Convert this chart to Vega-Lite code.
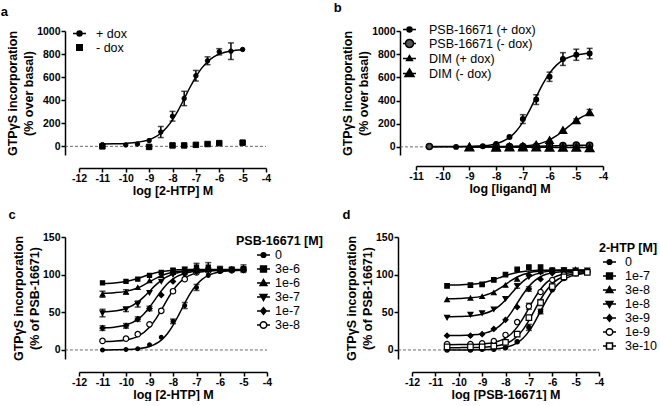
{
  "$schema": "https://vega.github.io/schema/vega-lite/v6.json",
  "padding": {"left": 0, "top": 2, "right": 0, "bottom": 0},
  "background": "white",
  "config": {
    "view": {"stroke": null},
    "font": "Liberation Sans",
    "axis": {"domainColor": "black", "domainWidth": 1.5, "tickColor": "black", "tickWidth": 1.5, "tickSize": 4, "labelFont": "Liberation Sans", "labelFontWeight": "bold", "labelFontSize": 10.5, "labelColor": "black", "labelPadding": 1, "titleFont": "Liberation Sans", "titleFontWeight": "bold", "titleFontSize": 12.5, "titleColor": "black", "titlePadding": 1, "titleLineHeight": 16, "grid": false, "labelFlush": false, "labelOverlap": false},
    "legend": {"labelFont": "Liberation Sans", "labelFontSize": 12.5, "labelColor": "black", "titleFont": "Liberation Sans", "titleFontSize": 12.5, "titleColor": "black", "titleFontWeight": "bold", "padding": 0, "offset": 0, "symbolStrokeWidth": 1.5, "symbolStrokeColor": "black"},
    "title": {"font": "Liberation Sans", "fontSize": 13, "fontWeight": "bold", "color": "black", "anchor": "start", "frame": "bounds"}
  },
  "datasets": {
    "aPts": [
      {"s": "+ dox", "x": -11, "v": 15}, {"s": "+ dox", "x": -10, "v": 12}, {"s": "+ dox", "x": -9.5, "v": 20}, {"s": "+ dox", "x": -9, "v": 50},
      {"s": "+ dox", "x": -8.5, "v": 124, "e": 48}, {"s": "+ dox", "x": -8, "v": 261, "e": 42}, {"s": "+ dox", "x": -7.5, "v": 415, "e": 62},
      {"s": "+ dox", "x": -7, "v": 612, "e": 46}, {"s": "+ dox", "x": -6.5, "v": 742, "e": 34}, {"s": "+ dox", "x": -6, "v": 820, "e": 27},
      {"s": "+ dox", "x": -5.5, "v": 825, "e": 72}, {"s": "+ dox", "x": -5, "v": 840},
      {"s": "- dox", "x": -11, "v": 0}, {"s": "- dox", "x": -9, "v": -5}, {"s": "- dox", "x": -8, "v": 8}, {"s": "- dox", "x": -7.5, "v": 8},
      {"s": "- dox", "x": -7, "v": 13}, {"s": "- dox", "x": -6.5, "v": 20}, {"s": "- dox", "x": -6, "v": 28}, {"s": "- dox", "x": -5, "v": 32}
    ],
    "aFit": [
      {"s": "+ dox", "x": -11, "v": 20.8}, {"s": "+ dox", "x": -10.5, "v": 22.1}, {"s": "+ dox", "x": -10, "v": 25.5}, {"s": "+ dox", "x": -9.5, "v": 34.7},
      {"s": "+ dox", "x": -9, "v": 57.9}, {"s": "+ dox", "x": -8.75, "v": 80.1}, {"s": "+ dox", "x": -8.5, "v": 113.7}, {"s": "+ dox", "x": -8.25, "v": 162.6},
      {"s": "+ dox", "x": -8, "v": 229.7}, {"s": "+ dox", "x": -7.75, "v": 314.8}, {"s": "+ dox", "x": -7.5, "v": 412.3}, {"s": "+ dox", "x": -7.25, "v": 512.2},
      {"s": "+ dox", "x": -7, "v": 603.2}, {"s": "+ dox", "x": -6.75, "v": 677.9}, {"s": "+ dox", "x": -6.5, "v": 733.8}, {"s": "+ dox", "x": -6.25, "v": 773.1},
      {"s": "+ dox", "x": -6, "v": 799.4}, {"s": "+ dox", "x": -5.5, "v": 827.3}, {"s": "+ dox", "x": -5, "v": 838.3}
    ],
    "bPts": [
      {"s": "PSB-16671 (+ dox)", "x": -10.5, "v": 2}, {"s": "PSB-16671 (+ dox)", "x": -9.5, "v": 0}, {"s": "PSB-16671 (+ dox)", "x": -8.5, "v": 5},
      {"s": "PSB-16671 (+ dox)", "x": -8, "v": 25}, {"s": "PSB-16671 (+ dox)", "x": -7.5, "v": 86}, {"s": "PSB-16671 (+ dox)", "x": -7, "v": 240, "e": 38},
      {"s": "PSB-16671 (+ dox)", "x": -6.5, "v": 408, "e": 42}, {"s": "PSB-16671 (+ dox)", "x": -6, "v": 605, "e": 40}, {"s": "PSB-16671 (+ dox)", "x": -5.5, "v": 758, "e": 55},
      {"s": "PSB-16671 (+ dox)", "x": -5, "v": 795, "e": 48}, {"s": "PSB-16671 (+ dox)", "x": -4.5, "v": 805, "e": 45},
      {"s": "DIM (+ dox)", "x": -9, "v": 1}, {"s": "DIM (+ dox)", "x": -8, "v": 2}, {"s": "DIM (+ dox)", "x": -7.5, "v": 3}, {"s": "DIM (+ dox)", "x": -7, "v": 7},
      {"s": "DIM (+ dox)", "x": -6.5, "v": 20}, {"s": "DIM (+ dox)", "x": -6, "v": 58}, {"s": "DIM (+ dox)", "x": -5.5, "v": 144},
      {"s": "DIM (+ dox)", "x": -5, "v": 230, "e": 12}, {"s": "DIM (+ dox)", "x": -4.5, "v": 298, "e": 25},
      {"s": "PSB-16671 (- dox)", "x": -10.5, "v": 3}, {"s": "PSB-16671 (- dox)", "x": -8, "v": 5}, {"s": "PSB-16671 (- dox)", "x": -7.5, "v": 3},
      {"s": "PSB-16671 (- dox)", "x": -7, "v": 4}, {"s": "PSB-16671 (- dox)", "x": -6.5, "v": 6}, {"s": "PSB-16671 (- dox)", "x": -6, "v": 8},
      {"s": "PSB-16671 (- dox)", "x": -5.5, "v": 12, "e": 10}, {"s": "PSB-16671 (- dox)", "x": -5, "v": 15, "e": 12}, {"s": "PSB-16671 (- dox)", "x": -4.5, "v": 14, "e": 15},
      {"s": "DIM (- dox)", "x": -9, "v": -2}, {"s": "DIM (- dox)", "x": -8, "v": -4, "e": 8}, {"s": "DIM (- dox)", "x": -7.5, "v": -2},
      {"s": "DIM (- dox)", "x": -7, "v": -3}, {"s": "DIM (- dox)", "x": -6.5, "v": -2}, {"s": "DIM (- dox)", "x": -6, "v": -4},
      {"s": "DIM (- dox)", "x": -5.5, "v": -5}, {"s": "DIM (- dox)", "x": -5, "v": -5}, {"s": "DIM (- dox)", "x": -4.5, "v": -8, "e": 10}
    ],
    "bFit": [
      {"s": "PSB-16671 (+ dox)", "x": -10.5, "v": 0.1}, {"s": "PSB-16671 (+ dox)", "x": -10, "v": 0.3}, {"s": "PSB-16671 (+ dox)", "x": -9.5, "v": 0.9},
      {"s": "PSB-16671 (+ dox)", "x": -9, "v": 2.9}, {"s": "PSB-16671 (+ dox)", "x": -8.5, "v": 9}, {"s": "PSB-16671 (+ dox)", "x": -8, "v": 27.9},
      {"s": "PSB-16671 (+ dox)", "x": -7.75, "v": 48.4}, {"s": "PSB-16671 (+ dox)", "x": -7.5, "v": 82.2}, {"s": "PSB-16671 (+ dox)", "x": -7.25, "v": 135.6},
      {"s": "PSB-16671 (+ dox)", "x": -7, "v": 213.5}, {"s": "PSB-16671 (+ dox)", "x": -6.75, "v": 315.3}, {"s": "PSB-16671 (+ dox)", "x": -6.5, "v": 431},
      {"s": "PSB-16671 (+ dox)", "x": -6.25, "v": 543}, {"s": "PSB-16671 (+ dox)", "x": -6, "v": 636}, {"s": "PSB-16671 (+ dox)", "x": -5.75, "v": 703.5},
      {"s": "PSB-16671 (+ dox)", "x": -5.5, "v": 748.3}, {"s": "PSB-16671 (+ dox)", "x": -5.25, "v": 776.1}, {"s": "PSB-16671 (+ dox)", "x": -5, "v": 792.6},
      {"s": "PSB-16671 (+ dox)", "x": -4.75, "v": 802.3}, {"s": "PSB-16671 (+ dox)", "x": -4.5, "v": 807.8},
      {"s": "PSB-16671 (- dox)", "x": -10.5, "v": 3}, {"s": "PSB-16671 (- dox)", "x": -9, "v": 3}, {"s": "PSB-16671 (- dox)", "x": -8, "v": 3.5},
      {"s": "PSB-16671 (- dox)", "x": -7, "v": 4.5}, {"s": "PSB-16671 (- dox)", "x": -6.5, "v": 6}, {"s": "PSB-16671 (- dox)", "x": -6, "v": 8.5},
      {"s": "PSB-16671 (- dox)", "x": -5.5, "v": 11.5}, {"s": "PSB-16671 (- dox)", "x": -5, "v": 13.5}, {"s": "PSB-16671 (- dox)", "x": -4.5, "v": 14.5},
      {"s": "DIM (+ dox)", "x": -9, "v": 0.1}, {"s": "DIM (+ dox)", "x": -8.5, "v": 0.2}, {"s": "DIM (+ dox)", "x": -8, "v": 0.7},
      {"s": "DIM (+ dox)", "x": -7.5, "v": 2.3}, {"s": "DIM (+ dox)", "x": -7, "v": 7.2}, {"s": "DIM (+ dox)", "x": -6.75, "v": 12.6},
      {"s": "DIM (+ dox)", "x": -6.5, "v": 21.8}, {"s": "DIM (+ dox)", "x": -6.25, "v": 36.9}, {"s": "DIM (+ dox)", "x": -6, "v": 60.4},
      {"s": "DIM (+ dox)", "x": -5.75, "v": 94}, {"s": "DIM (+ dox)", "x": -5.5, "v": 136.8}, {"s": "DIM (+ dox)", "x": -5.25, "v": 183.9},
      {"s": "DIM (+ dox)", "x": -5, "v": 228.1}, {"s": "DIM (+ dox)", "x": -4.75, "v": 263.8}, {"s": "DIM (+ dox)", "x": -4.5, "v": 289.2},
      {"s": "DIM (- dox)", "x": -9, "v": -1}, {"s": "DIM (- dox)", "x": -8, "v": -1.5}, {"s": "DIM (- dox)", "x": -7, "v": -2.5},
      {"s": "DIM (- dox)", "x": -6, "v": -4}, {"s": "DIM (- dox)", "x": -5.5, "v": -4.8}, {"s": "DIM (- dox)", "x": -5, "v": -5.3}, {"s": "DIM (- dox)", "x": -4.5, "v": -5.5}
    ],
    "cPts": [
      {"s": "0", "x": -11, "v": 0}, {"s": "0", "x": -10, "v": 0.5}, {"s": "0", "x": -9.5, "v": 1.5}, {"s": "0", "x": -9, "v": 7}, {"s": "0", "x": -8.5, "v": 17},
      {"s": "0", "x": -8, "v": 38, "e": 3}, {"s": "0", "x": -7.5, "v": 59, "e": 4}, {"s": "0", "x": -7, "v": 83, "e": 4}, {"s": "0", "x": -6.5, "v": 99},
      {"s": "0", "x": -6, "v": 104}, {"s": "0", "x": -5.5, "v": 105}, {"s": "0", "x": -5, "v": 106},
      {"s": "3e-8", "x": -11, "v": 12}, {"s": "3e-8", "x": -10, "v": 15}, {"s": "3e-8", "x": -9.5, "v": 21}, {"s": "3e-8", "x": -9, "v": 34},
      {"s": "3e-8", "x": -8.5, "v": 52, "e": 2}, {"s": "3e-8", "x": -8, "v": 78, "e": 2}, {"s": "3e-8", "x": -7.5, "v": 94}, {"s": "3e-8", "x": -7, "v": 103},
      {"s": "3e-8", "x": -6.5, "v": 105}, {"s": "3e-8", "x": -6, "v": 106}, {"s": "3e-8", "x": -5.5, "v": 106}, {"s": "3e-8", "x": -5, "v": 107},
      {"s": "1e-7", "x": -11, "v": 29, "e": 3}, {"s": "1e-7", "x": -10, "v": 32, "e": 3}, {"s": "1e-7", "x": -9.5, "v": 41, "e": 3}, {"s": "1e-7", "x": -9, "v": 55, "e": 3},
      {"s": "1e-7", "x": -8.5, "v": 73}, {"s": "1e-7", "x": -8, "v": 91}, {"s": "1e-7", "x": -7.5, "v": 101}, {"s": "1e-7", "x": -7, "v": 104},
      {"s": "1e-7", "x": -6.5, "v": 106}, {"s": "1e-7", "x": -6, "v": 106}, {"s": "1e-7", "x": -5.5, "v": 107}, {"s": "1e-7", "x": -5, "v": 106},
      {"s": "3e-7", "x": -11, "v": 49, "e": 5}, {"s": "3e-7", "x": -10, "v": 54, "e": 3}, {"s": "3e-7", "x": -9.5, "v": 61, "e": 4}, {"s": "3e-7", "x": -9, "v": 76},
      {"s": "3e-7", "x": -8.5, "v": 91}, {"s": "3e-7", "x": -8, "v": 100}, {"s": "3e-7", "x": -7.5, "v": 104}, {"s": "3e-7", "x": -7, "v": 105},
      {"s": "3e-7", "x": -6.5, "v": 106}, {"s": "3e-7", "x": -6, "v": 107}, {"s": "3e-7", "x": -5.5, "v": 106}, {"s": "3e-7", "x": -5, "v": 107},
      {"s": "1e-6", "x": -11, "v": 74, "e": 4}, {"s": "1e-6", "x": -10, "v": 77, "e": 3}, {"s": "1e-6", "x": -9.5, "v": 83}, {"s": "1e-6", "x": -9, "v": 92},
      {"s": "1e-6", "x": -8.5, "v": 99}, {"s": "1e-6", "x": -8, "v": 103}, {"s": "1e-6", "x": -7.5, "v": 105}, {"s": "1e-6", "x": -7, "v": 106},
      {"s": "1e-6", "x": -6.5, "v": 107}, {"s": "1e-6", "x": -6, "v": 106}, {"s": "1e-6", "x": -5.5, "v": 107}, {"s": "1e-6", "x": -5, "v": 107},
      {"s": "3e-6", "x": -11, "v": 89}, {"s": "3e-6", "x": -10, "v": 91}, {"s": "3e-6", "x": -9.5, "v": 94}, {"s": "3e-6", "x": -9, "v": 99},
      {"s": "3e-6", "x": -8.5, "v": 103}, {"s": "3e-6", "x": -8, "v": 106, "e": 2}, {"s": "3e-6", "x": -7.5, "v": 107, "e": 3}, {"s": "3e-6", "x": -7, "v": 110, "e": 5},
      {"s": "3e-6", "x": -6.5, "v": 110, "e": 6}, {"s": "3e-6", "x": -6, "v": 107, "e": 4}, {"s": "3e-6", "x": -5.5, "v": 107, "e": 3}, {"s": "3e-6", "x": -5, "v": 108, "e": 5}
    ],
    "cFit": [
      {"s": "0", "x": -11, "v": 0}, {"s": "0", "x": -10.5, "v": 0.2}, {"s": "0", "x": -10, "v": 0.5}, {"s": "0", "x": -9.5, "v": 1.5}, {"s": "0", "x": -9, "v": 4.5},
      {"s": "0", "x": -8.5, "v": 13.1}, {"s": "0", "x": -8.25, "v": 21.3}, {"s": "0", "x": -8, "v": 32.7}, {"s": "0", "x": -7.75, "v": 46.9}, {"s": "0", "x": -7.5, "v": 62.1},
      {"s": "0", "x": -7.25, "v": 75.8}, {"s": "0", "x": -7, "v": 86.6}, {"s": "0", "x": -6.75, "v": 94.1}, {"s": "0", "x": -6.5, "v": 99}, {"s": "0", "x": -6, "v": 103.7},
      {"s": "0", "x": -5.5, "v": 105.3}, {"s": "0", "x": -5, "v": 105.8},
      {"s": "3e-8", "x": -11, "v": 11.2}, {"s": "3e-8", "x": -10.5, "v": 11.7}, {"s": "3e-8", "x": -10, "v": 13.3}, {"s": "3e-8", "x": -9.5, "v": 18},
      {"s": "3e-8", "x": -9, "v": 30.1}, {"s": "3e-8", "x": -8.75, "v": 40.3}, {"s": "3e-8", "x": -8.5, "v": 53.1}, {"s": "3e-8", "x": -8.25, "v": 66.6},
      {"s": "3e-8", "x": -8, "v": 79}, {"s": "3e-8", "x": -7.75, "v": 88.6}, {"s": "3e-8", "x": -7.5, "v": 95.4}, {"s": "3e-8", "x": -7, "v": 102.4},
      {"s": "3e-8", "x": -6.5, "v": 104.8}, {"s": "3e-8", "x": -6, "v": 105.6}, {"s": "3e-8", "x": -5.5, "v": 105.9}, {"s": "3e-8", "x": -5, "v": 106},
      {"s": "1e-7", "x": -11, "v": 29.4}, {"s": "1e-7", "x": -10.5, "v": 30.3}, {"s": "1e-7", "x": -10, "v": 33.1}, {"s": "1e-7", "x": -9.5, "v": 40.6},
      {"s": "1e-7", "x": -9.25, "v": 47.5}, {"s": "1e-7", "x": -9, "v": 56.7}, {"s": "1e-7", "x": -8.75, "v": 67.5}, {"s": "1e-7", "x": -8.5, "v": 78.3},
      {"s": "1e-7", "x": -8.25, "v": 87.5}, {"s": "1e-7", "x": -8, "v": 94.4}, {"s": "1e-7", "x": -7.5, "v": 101.9}, {"s": "1e-7", "x": -7, "v": 104.7},
      {"s": "1e-7", "x": -6.5, "v": 105.6}, {"s": "1e-7", "x": -6, "v": 105.8}, {"s": "1e-7", "x": -5, "v": 106},
      {"s": "3e-7", "x": -11, "v": 50.6}, {"s": "3e-7", "x": -10.5, "v": 51.7}, {"s": "3e-7", "x": -10, "v": 55.1}, {"s": "3e-7", "x": -9.5, "v": 63.5},
      {"s": "3e-7", "x": -9.25, "v": 70.2}, {"s": "3e-7", "x": -9, "v": 78}, {"s": "3e-7", "x": -8.75, "v": 85.8}, {"s": "3e-7", "x": -8.5, "v": 92.5},
      {"s": "3e-7", "x": -8, "v": 100.9}, {"s": "3e-7", "x": -7.5, "v": 104.3}, {"s": "3e-7", "x": -7, "v": 105.4}, {"s": "3e-7", "x": -6.5, "v": 105.8},
      {"s": "3e-7", "x": -6, "v": 105.9}, {"s": "3e-7", "x": -5, "v": 106},
      {"s": "1e-6", "x": -11, "v": 75.3}, {"s": "1e-6", "x": -10.5, "v": 76}, {"s": "1e-6", "x": -10, "v": 77.8}, {"s": "1e-6", "x": -9.5, "v": 82.4},
      {"s": "1e-6", "x": -9.25, "v": 86.2}, {"s": "1e-6", "x": -9, "v": 90.5}, {"s": "1e-6", "x": -8.75, "v": 94.8}, {"s": "1e-6", "x": -8.5, "v": 98.6},
      {"s": "1e-6", "x": -8, "v": 103.2}, {"s": "1e-6", "x": -7.5, "v": 105}, {"s": "1e-6", "x": -7, "v": 105.7}, {"s": "1e-6", "x": -6.5, "v": 105.9}, {"s": "1e-6", "x": -5, "v": 106},
      {"s": "3e-6", "x": -11, "v": 88.3}, {"s": "3e-6", "x": -10.5, "v": 89}, {"s": "3e-6", "x": -10, "v": 90.9}, {"s": "3e-6", "x": -9.5, "v": 94.8},
      {"s": "3e-6", "x": -9, "v": 100.2}, {"s": "3e-6", "x": -8.5, "v": 104.1}, {"s": "3e-6", "x": -8, "v": 106}, {"s": "3e-6", "x": -7.5, "v": 106.7},
      {"s": "3e-6", "x": -7, "v": 106.9}, {"s": "3e-6", "x": -6, "v": 107}, {"s": "3e-6", "x": -5, "v": 107}
    ],
    "dPts": [
      {"s": "0", "x": -10.5, "v": 0}, {"s": "0", "x": -9.5, "v": 0}, {"s": "0", "x": -9, "v": 1}, {"s": "0", "x": -8.5, "v": 1}, {"s": "0", "x": -8, "v": 3},
      {"s": "0", "x": -7.5, "v": 11}, {"s": "0", "x": -7, "v": 30, "e": 4}, {"s": "0", "x": -6.5, "v": 51, "e": 3}, {"s": "0", "x": -6, "v": 80},
      {"s": "0", "x": -5.5, "v": 95}, {"s": "0", "x": -5, "v": 101}, {"s": "0", "x": -4.5, "v": 103},
      {"s": "1e-7", "x": -10.5, "v": 85}, {"s": "1e-7", "x": -9.5, "v": 86}, {"s": "1e-7", "x": -9, "v": 87}, {"s": "1e-7", "x": -8.5, "v": 93},
      {"s": "1e-7", "x": -8, "v": 100}, {"s": "1e-7", "x": -7.5, "v": 107}, {"s": "1e-7", "x": -7, "v": 110}, {"s": "1e-7", "x": -6.5, "v": 110},
      {"s": "1e-7", "x": -6, "v": 106}, {"s": "1e-7", "x": -5.5, "v": 106}, {"s": "1e-7", "x": -5, "v": 105}, {"s": "1e-7", "x": -4.5, "v": 104},
      {"s": "3e-8", "x": -10.5, "v": 67}, {"s": "3e-8", "x": -9.5, "v": 69}, {"s": "3e-8", "x": -9, "v": 71}, {"s": "3e-8", "x": -8.5, "v": 76},
      {"s": "3e-8", "x": -8, "v": 86}, {"s": "3e-8", "x": -7.5, "v": 94}, {"s": "3e-8", "x": -7, "v": 101}, {"s": "3e-8", "x": -6.5, "v": 104},
      {"s": "3e-8", "x": -6, "v": 106}, {"s": "3e-8", "x": -5.5, "v": 106}, {"s": "3e-8", "x": -5, "v": 107}, {"s": "3e-8", "x": -4.5, "v": 105},
      {"s": "1e-8", "x": -10.5, "v": 43}, {"s": "1e-8", "x": -9.5, "v": 47}, {"s": "1e-8", "x": -9, "v": 49}, {"s": "1e-8", "x": -8.5, "v": 54},
      {"s": "1e-8", "x": -8, "v": 68}, {"s": "1e-8", "x": -7.5, "v": 85, "e": 3}, {"s": "1e-8", "x": -7, "v": 97}, {"s": "1e-8", "x": -6.5, "v": 103},
      {"s": "1e-8", "x": -6, "v": 105}, {"s": "1e-8", "x": -5.5, "v": 106}, {"s": "1e-8", "x": -5, "v": 106}, {"s": "1e-8", "x": -4.5, "v": 106},
      {"s": "3e-9", "x": -10.5, "v": 19}, {"s": "3e-9", "x": -9.5, "v": 19}, {"s": "3e-9", "x": -9, "v": 21}, {"s": "3e-9", "x": -8.5, "v": 28},
      {"s": "3e-9", "x": -8, "v": 40}, {"s": "3e-9", "x": -7.5, "v": 57}, {"s": "3e-9", "x": -7, "v": 81, "e": 3}, {"s": "3e-9", "x": -6.5, "v": 94},
      {"s": "3e-9", "x": -6, "v": 102}, {"s": "3e-9", "x": -5.5, "v": 104}, {"s": "3e-9", "x": -5, "v": 105}, {"s": "3e-9", "x": -4.5, "v": 104},
      {"s": "1e-9", "x": -10.5, "v": 8}, {"s": "1e-9", "x": -9.5, "v": 8}, {"s": "1e-9", "x": -9, "v": 9}, {"s": "1e-9", "x": -8.5, "v": 12},
      {"s": "1e-9", "x": -8, "v": 20}, {"s": "1e-9", "x": -7.5, "v": 37}, {"s": "1e-9", "x": -7, "v": 58, "e": 4}, {"s": "1e-9", "x": -6.5, "v": 77},
      {"s": "1e-9", "x": -6, "v": 93}, {"s": "1e-9", "x": -5.5, "v": 100}, {"s": "1e-9", "x": -5, "v": 103}, {"s": "1e-9", "x": -4.5, "v": 104},
      {"s": "3e-10", "x": -10.5, "v": 4}, {"s": "3e-10", "x": -9.5, "v": 4}, {"s": "3e-10", "x": -9, "v": 4}, {"s": "3e-10", "x": -8.5, "v": 5},
      {"s": "3e-10", "x": -8, "v": 10}, {"s": "3e-10", "x": -7.5, "v": 21}, {"s": "3e-10", "x": -7, "v": 43}, {"s": "3e-10", "x": -6.5, "v": 63, "e": 4},
      {"s": "3e-10", "x": -6, "v": 84}, {"s": "3e-10", "x": -5.5, "v": 97}, {"s": "3e-10", "x": -5, "v": 102}, {"s": "3e-10", "x": -4.5, "v": 103}
    ],
    "dFit": [
      {"s": "0", "x": -10.5, "v": 0}, {"s": "0", "x": -9.5, "v": 0.1}, {"s": "0", "x": -9, "v": 0.3}, {"s": "0", "x": -8.5, "v": 1}, {"s": "0", "x": -8, "v": 3.2},
      {"s": "0", "x": -7.5, "v": 9.4}, {"s": "0", "x": -7.25, "v": 15.6}, {"s": "0", "x": -7, "v": 24.7}, {"s": "0", "x": -6.75, "v": 37.1}, {"s": "0", "x": -6.5, "v": 51.5},
      {"s": "0", "x": -6.25, "v": 65.9}, {"s": "0", "x": -6, "v": 78.3}, {"s": "0", "x": -5.75, "v": 87.4}, {"s": "0", "x": -5.5, "v": 93.6}, {"s": "0", "x": -5, "v": 99.8}, {"s": "0", "x": -4.5, "v": 102},
      {"s": "1e-7", "x": -10.5, "v": 86.1}, {"s": "1e-7", "x": -10, "v": 86.3}, {"s": "1e-7", "x": -9.5, "v": 87.1}, {"s": "1e-7", "x": -9, "v": 89},
      {"s": "1e-7", "x": -8.5, "v": 93.2}, {"s": "1e-7", "x": -8.25, "v": 96}, {"s": "1e-7", "x": -8, "v": 98.8}, {"s": "1e-7", "x": -7.5, "v": 103},
      {"s": "1e-7", "x": -7, "v": 104.9}, {"s": "1e-7", "x": -6.5, "v": 105.7}, {"s": "1e-7", "x": -6, "v": 105.9}, {"s": "1e-7", "x": -4.5, "v": 106},
      {"s": "3e-8", "x": -10.5, "v": 68.1}, {"s": "3e-8", "x": -10, "v": 68.4}, {"s": "3e-8", "x": -9.5, "v": 69.2}, {"s": "3e-8", "x": -9, "v": 71.5},
      {"s": "3e-8", "x": -8.5, "v": 77.1}, {"s": "3e-8", "x": -8.25, "v": 81.7}, {"s": "3e-8", "x": -8, "v": 87}, {"s": "3e-8", "x": -7.75, "v": 92.3},
      {"s": "3e-8", "x": -7.5, "v": 96.9}, {"s": "3e-8", "x": -7, "v": 102.5}, {"s": "3e-8", "x": -6.5, "v": 104.8}, {"s": "3e-8", "x": -6, "v": 105.6},
      {"s": "3e-8", "x": -5.5, "v": 105.9}, {"s": "3e-8", "x": -4.5, "v": 106},
      {"s": "1e-8", "x": -10.5, "v": 44.1}, {"s": "1e-8", "x": -10, "v": 44.4}, {"s": "1e-8", "x": -9.5, "v": 45.1}, {"s": "1e-8", "x": -9, "v": 47.3},
      {"s": "1e-8", "x": -8.5, "v": 53.4}, {"s": "1e-8", "x": -8.25, "v": 58.9}, {"s": "1e-8", "x": -8, "v": 66.3}, {"s": "1e-8", "x": -7.75, "v": 75},
      {"s": "1e-8", "x": -7.5, "v": 83.7}, {"s": "1e-8", "x": -7.25, "v": 91.1}, {"s": "1e-8", "x": -7, "v": 96.6}, {"s": "1e-8", "x": -6.5, "v": 102.7},
      {"s": "1e-8", "x": -6, "v": 104.9}, {"s": "1e-8", "x": -5.5, "v": 105.7}, {"s": "1e-8", "x": -5, "v": 105.9}, {"s": "1e-8", "x": -4.5, "v": 106},
      {"s": "3e-9", "x": -10.5, "v": 19.1}, {"s": "3e-9", "x": -10, "v": 19.3}, {"s": "3e-9", "x": -9.5, "v": 19.9}, {"s": "3e-9", "x": -9, "v": 21.6},
      {"s": "3e-9", "x": -8.5, "v": 26.8}, {"s": "3e-9", "x": -8.25, "v": 32}, {"s": "3e-9", "x": -8, "v": 39.7}, {"s": "3e-9", "x": -7.75, "v": 50},
      {"s": "3e-9", "x": -7.5, "v": 62}, {"s": "3e-9", "x": -7.25, "v": 74}, {"s": "3e-9", "x": -7, "v": 84.3}, {"s": "3e-9", "x": -6.75, "v": 92},
      {"s": "3e-9", "x": -6.5, "v": 97.2}, {"s": "3e-9", "x": -6, "v": 102.4}, {"s": "3e-9", "x": -5.5, "v": 104.1}, {"s": "3e-9", "x": -5, "v": 104.7}, {"s": "3e-9", "x": -4.5, "v": 104.9},
      {"s": "1e-9", "x": -10.5, "v": 7}, {"s": "1e-9", "x": -10, "v": 7.1}, {"s": "1e-9", "x": -9.5, "v": 7.3}, {"s": "1e-9", "x": -9, "v": 8},
      {"s": "1e-9", "x": -8.5, "v": 10}, {"s": "1e-9", "x": -8, "v": 15.8}, {"s": "1e-9", "x": -7.75, "v": 21.6}, {"s": "1e-9", "x": -7.5, "v": 30.3},
      {"s": "1e-9", "x": -7.25, "v": 41.9}, {"s": "1e-9", "x": -7, "v": 55.5}, {"s": "1e-9", "x": -6.75, "v": 69.1}, {"s": "1e-9", "x": -6.5, "v": 80.7},
      {"s": "1e-9", "x": -6.25, "v": 89.4}, {"s": "1e-9", "x": -6, "v": 95.2}, {"s": "1e-9", "x": -5.5, "v": 101}, {"s": "1e-9", "x": -5, "v": 103}, {"s": "1e-9", "x": -4.5, "v": 103.7},
      {"s": "3e-10", "x": -10.5, "v": 3}, {"s": "3e-10", "x": -10, "v": 3.1}, {"s": "3e-10", "x": -9.5, "v": 3.2}, {"s": "3e-10", "x": -9, "v": 3.6},
      {"s": "3e-10", "x": -8.5, "v": 4.8}, {"s": "3e-10", "x": -8, "v": 8.3}, {"s": "3e-10", "x": -7.75, "v": 12.1}, {"s": "3e-10", "x": -7.5, "v": 18.1},
      {"s": "3e-10", "x": -7.25, "v": 27}, {"s": "3e-10", "x": -7, "v": 39}, {"s": "3e-10", "x": -6.75, "v": 53}, {"s": "3e-10", "x": -6.5, "v": 67},
      {"s": "3e-10", "x": -6.25, "v": 79}, {"s": "3e-10", "x": -6, "v": 87.9}, {"s": "3e-10", "x": -5.75, "v": 93.9}, {"s": "3e-10", "x": -5.5, "v": 97.7},
      {"s": "3e-10", "x": -5, "v": 101.3}, {"s": "3e-10", "x": -4.5, "v": 102.4}
    ]
  },
  "spacing": 12,
  "resolve": {"scale": {"shape": "independent", "fill": "independent", "size": "independent", "stroke": "independent"}, "legend": {"shape": "independent", "fill": "independent", "size": "independent", "stroke": "independent"}},
  "vconcat": [
    {
      "spacing": 62,
      "resolve": {"scale": {"shape": "independent", "fill": "independent", "size": "independent", "stroke": "independent"}, "legend": {"shape": "independent", "fill": "independent", "size": "independent", "stroke": "independent"}},
      "hconcat": [
        {
          "width": 187, "height": 124,
          "title": {"text": "a", "dx": -6, "offset": 7},
          "resolve": {"scale": {"shape": "independent", "fill": "independent", "size": "independent", "stroke": "independent"}, "legend": {"shape": "independent", "fill": "independent", "size": "independent", "stroke": "independent"}},
          "encoding": {
            "x": {"field": "x", "type": "quantitative", "scale": {"domain": [-12, -4], "nice": false, "zero": false}, "axis": {"title": "log [2-HTP] M", "values": [-12, -11, -10, -9, -8, -7, -6, -5, -4], "offset": 13, "labelExpr": "'' + datum.value"}},
            "y": {"field": "v", "type": "quantitative", "scale": {"domain": [-75, 1000], "nice": false, "zero": false}, "axis": {"title": ["GTPγS incorporation", "(% over basal)"], "values": [0, 200, 400, 600, 800, 1000], "offset": 14, "labelExpr": "'' + datum.value"}}
          },
          "layer": [
            {"data": {"values": [{"x": -12.6, "v": 0}, {"x": -4, "v": 0}]}, "mark": {"type": "line", "strokeDash": [3, 2], "color": "#444", "strokeWidth": 0.8}},
            {"data": {"name": "aFit"}, "mark": {"type": "line", "interpolate": "monotone", "color": "black", "strokeWidth": 1.5}, "encoding": {"detail": {"field": "s"}}},
            {"data": {"name": "aPts"}, "transform": [{"filter": "isValid(datum.e)"}], "mark": {"type": "errorbar", "color": "black", "thickness": 1.5, "ticks": {"size": 6, "thickness": 1.5}}, "encoding": {"yError": {"field": "e"}}},
            {"data": {"name": "aPts"}, "mark": {"type": "point", "filled": true, "fill": "black", "stroke": "black", "strokeWidth": 1, "opacity": 1},
             "encoding": {
               "shape": {"field": "s", "type": "nominal", "scale": {"domain": ["+ dox", "- dox"], "range": ["circle", "square"]}, "legend": null},
               "size": {"field": "s", "type": "ordinal", "scale": {"domain": ["+ dox", "- dox"], "range": [20, 30]}, "legend": null}
             }},
            {"data": {"name": "aPts"}, "transform": [{"filter": "datum.x > 100"}], "mark": {"type": "point", "filled": false, "color": "black", "stroke": "black", "strokeWidth": 1.5, "opacity": 1},
             "encoding": {
               "shape": {"field": "s", "type": "nominal", "scale": {"domain": ["+ dox", "- dox"], "range": ["M-1,0L1,0M0.38,0A0.38,0.38,0,1,1,-0.38,0A0.38,0.38,0,1,1,0.38,0Z", "M-0.42,-0.42L0.42,-0.42L0.42,0.42L-0.42,0.42Z"]},
                 "legend": {"title": null, "orient": "none", "legendX": -7, "legendY": -5, "symbolSize": 169, "symbolOpacity": 1, "symbolStrokeWidth": 1.5, "labelOffset": 9, "rowPadding": -3}},
               "fill": {"field": "s", "type": "nominal", "scale": {"domain": ["+ dox", "- dox"], "range": ["black", "black"]},
                 "legend": {"title": null, "orient": "none", "legendX": -7, "legendY": -5, "symbolSize": 169, "symbolOpacity": 1, "symbolStrokeWidth": 1.5, "labelOffset": 9, "rowPadding": -3}},
               "stroke": {"field": "s", "type": "nominal", "scale": {"domain": ["+ dox", "- dox"], "range": ["black", "black"]},
                 "legend": {"title": null, "orient": "none", "legendX": -7, "legendY": -5, "symbolSize": 169, "symbolOpacity": 1, "symbolStrokeWidth": 1.5, "labelOffset": 9, "rowPadding": -3}}
             }}
          ]
        },
        {
          "width": 187, "height": 124,
          "title": {"text": "b", "dx": -8, "offset": 7},
          "resolve": {"scale": {"shape": "independent", "fill": "independent", "size": "independent", "stroke": "independent"}, "legend": {"shape": "independent", "fill": "independent", "size": "independent", "stroke": "independent"}},
          "encoding": {
            "x": {"field": "x", "type": "quantitative", "scale": {"domain": [-11, -4], "nice": false, "zero": false}, "axis": {"title": "log [ligand] M", "values": [-11, -10, -9, -8, -7, -6, -5, -4], "offset": 11, "labelExpr": "'' + datum.value"}},
            "y": {"field": "v", "type": "quantitative", "scale": {"domain": [-70, 1000], "nice": false, "zero": false}, "axis": {"title": ["GTPγS incorporation", "(% over basal)"], "values": [0, 200, 400, 600, 800, 1000], "offset": 16, "labelExpr": "'' + datum.value"}}
          },
          "layer": [
            {"data": {"values": [{"x": -11.6, "v": 0}, {"x": -4.3, "v": 0}]}, "mark": {"type": "line", "strokeDash": [3, 2], "color": "#444", "strokeWidth": 0.8}},
            {"data": {"name": "bFit"}, "mark": {"type": "line", "interpolate": "monotone", "color": "black", "strokeWidth": 1.5}, "encoding": {"detail": {"field": "s"}}},
            {"data": {"name": "bPts"}, "transform": [{"filter": "isValid(datum.e)"}], "mark": {"type": "errorbar", "color": "black", "thickness": 1.5, "ticks": {"size": 6, "thickness": 1.5}}, "encoding": {"yError": {"field": "e"}}},
            {"data": {"name": "bPts"}, "mark": {"type": "point", "filled": true, "stroke": "black", "strokeWidth": 1.5, "opacity": 1},
             "encoding": {
               "shape": {"field": "s", "type": "nominal", "scale": {"domain": ["PSB-16671 (+ dox)", "PSB-16671 (- dox)", "DIM (+ dox)", "DIM (- dox)"], "range": ["circle", "circle", "triangle-up", "triangle-up"]}, "legend": null},
               "fill": {"field": "s", "type": "nominal", "scale": {"domain": ["PSB-16671 (+ dox)", "PSB-16671 (- dox)", "DIM (+ dox)", "DIM (- dox)"], "range": ["black", "#555", "black", "black"]}, "legend": null},
               "size": {"field": "s", "type": "ordinal", "scale": {"domain": ["PSB-16671 (+ dox)", "PSB-16671 (- dox)", "DIM (+ dox)", "DIM (- dox)"], "range": [20, 70, 22, 70]}, "legend": null}
             }},
            {"data": {"name": "bPts"}, "transform": [{"filter": "datum.x > 100"}], "mark": {"type": "point", "filled": false, "color": "black", "stroke": "black", "strokeWidth": 1.5, "opacity": 1},
             "encoding": {
               "shape": {"field": "s", "type": "nominal", "scale": {"domain": ["PSB-16671 (+ dox)", "PSB-16671 (- dox)", "DIM (+ dox)", "DIM (- dox)"], "range": ["M-1,0L1,0M0.38,0A0.38,0.38,0,1,1,-0.38,0A0.38,0.38,0,1,1,0.38,0Z", "M-1,0L-0.62,0M0.62,0L1,0M0.62,0A0.62,0.62,0,1,1,-0.62,0A0.62,0.62,0,1,1,0.62,0Z", "M-1,0L1,0M0,-0.45L0.45,0.32L-0.45,0.32Z", "M-1,0L1,0M0,-0.7L0.7,0.48L-0.7,0.48Z"]},
                 "legend": {"title": null, "orient": "none", "legendX": -14, "legendY": -9, "symbolSize": 169, "symbolOpacity": 1, "symbolStrokeWidth": 1.5, "labelOffset": 12, "rowPadding": 0}},
               "fill": {"field": "s", "type": "nominal", "scale": {"domain": ["PSB-16671 (+ dox)", "PSB-16671 (- dox)", "DIM (+ dox)", "DIM (- dox)"], "range": ["black", "#555", "black", "black"]},
                 "legend": {"title": null, "orient": "none", "legendX": -14, "legendY": -9, "symbolSize": 169, "symbolOpacity": 1, "symbolStrokeWidth": 1.5, "labelOffset": 12, "rowPadding": 0}},
               "stroke": {"field": "s", "type": "nominal", "scale": {"domain": ["PSB-16671 (+ dox)", "PSB-16671 (- dox)", "DIM (+ dox)", "DIM (- dox)"], "range": ["black", "black", "black", "black"]},
                 "legend": {"title": null, "orient": "none", "legendX": -14, "legendY": -9, "symbolSize": 169, "symbolOpacity": 1, "symbolStrokeWidth": 1.5, "labelOffset": 12, "rowPadding": 0}}
             }}
          ]
        }
      ]
    },
    {
      "spacing": 19,
      "resolve": {"scale": {"shape": "independent", "fill": "independent", "size": "independent", "stroke": "independent"}, "legend": {"shape": "independent", "fill": "independent", "size": "independent", "stroke": "independent"}},
      "hconcat": [
        {
          "width": 188, "height": 122,
          "title": {"text": "c", "dx": -4, "offset": 10},
          "resolve": {"scale": {"shape": "independent", "fill": "independent", "size": "independent", "stroke": "independent"}, "legend": {"shape": "independent", "fill": "independent", "size": "independent", "stroke": "independent"}},
          "encoding": {
            "x": {"field": "x", "type": "quantitative", "scale": {"domain": [-12, -4], "nice": false, "zero": false}, "axis": {"title": "log [2-HTP] M", "values": [-12, -11, -10, -9, -8, -7, -6, -5, -4], "offset": 13, "labelExpr": "'' + datum.value"}},
            "y": {"field": "v", "type": "quantitative", "scale": {"domain": [-12, 150], "nice": false, "zero": false}, "axis": {"title": ["GTPγS incorporation", "(% of PSB-16671)"], "values": [0, 50, 100, 150], "offset": 14, "labelExpr": "'' + datum.value"}}
          },
          "layer": [
            {"data": {"values": [{"x": -12.6, "v": 0}, {"x": -4, "v": 0}]}, "mark": {"type": "line", "strokeDash": [3, 2], "color": "#444", "strokeWidth": 0.8}},
            {"data": {"name": "cFit"}, "mark": {"type": "line", "interpolate": "monotone", "color": "black", "strokeWidth": 1.5}, "encoding": {"detail": {"field": "s"}}},
            {"data": {"name": "cPts"}, "transform": [{"filter": "isValid(datum.e)"}], "mark": {"type": "errorbar", "color": "black", "thickness": 1.5, "ticks": {"size": 6, "thickness": 1.5}}, "encoding": {"yError": {"field": "e"}}},
            {"data": {"name": "cPts"}, "mark": {"type": "point", "filled": true, "stroke": "black", "strokeWidth": 1.2, "opacity": 1},
             "encoding": {
               "shape": {"field": "s", "type": "nominal", "scale": {"domain": ["0", "3e-6", "1e-6", "3e-7", "1e-7", "3e-8"], "range": ["circle", "square", "triangle-up", "triangle-down", "diamond", "circle"]}, "legend": null},
               "fill": {"field": "s", "type": "nominal", "scale": {"domain": ["0", "3e-6", "1e-6", "3e-7", "1e-7", "3e-8"], "range": ["black", "black", "black", "black", "black", "white"]}, "legend": null},
               "size": {"field": "s", "type": "ordinal", "scale": {"domain": ["0", "3e-6", "1e-6", "3e-7", "1e-7", "3e-8"], "range": [14, 30, 26, 26, 24, 32]}, "legend": null}
             }},
            {"data": {"name": "cPts"}, "transform": [{"filter": "datum.x > 100"}], "mark": {"type": "point", "filled": false, "color": "black", "stroke": "black", "strokeWidth": 1.5, "opacity": 1},
             "encoding": {
               "shape": {"field": "s", "type": "nominal", "scale": {"domain": ["0", "3e-6", "1e-6", "3e-7", "1e-7", "3e-8"], "range": ["M-1,0L1,0M0.36,0A0.36,0.36,0,1,1,-0.36,0A0.36,0.36,0,1,1,0.36,0Z", "M-1,0L1,0M-0.45,-0.45L0.45,-0.45L0.45,0.45L-0.45,0.45Z", "M-1,0L1,0M0,-0.52L0.52,0.38L-0.52,0.38Z", "M-1,0L1,0M0,0.52L0.52,-0.38L-0.52,-0.38Z", "M-1,0L1,0M0,-0.52L0.42,0L0,0.52L-0.42,0Z", "M-1,0L-0.5,0M0.5,0L1,0M0.5,0A0.5,0.5,0,1,1,-0.5,0A0.5,0.5,0,1,1,0.5,0Z"]},
                 "legend": {"title": "PSB-16671 [M]", "orient": "none", "legendX": 157, "legendY": -2, "symbolSize": 169, "symbolOpacity": 1, "symbolStrokeWidth": 1.5, "symbolOffset": 20, "labelOffset": 4, "rowPadding": 0, "titlePadding": 0}},
               "fill": {"field": "s", "type": "nominal", "scale": {"domain": ["0", "3e-6", "1e-6", "3e-7", "1e-7", "3e-8"], "range": ["black", "black", "black", "black", "black", "white"]},
                 "legend": {"title": "PSB-16671 [M]", "orient": "none", "legendX": 157, "legendY": -2, "symbolSize": 169, "symbolOpacity": 1, "symbolStrokeWidth": 1.5, "symbolOffset": 20, "labelOffset": 4, "rowPadding": 0, "titlePadding": 0}},
               "stroke": {"field": "s", "type": "nominal", "scale": {"domain": ["0", "3e-6", "1e-6", "3e-7", "1e-7", "3e-8"], "range": ["black", "black", "black", "black", "black", "black"]},
                 "legend": {"title": "PSB-16671 [M]", "orient": "none", "legendX": 157, "legendY": -2, "symbolSize": 169, "symbolOpacity": 1, "symbolStrokeWidth": 1.5, "symbolOffset": 20, "labelOffset": 4, "rowPadding": 0, "titlePadding": 0}}
             }}
          ]
        },
        {
          "width": 187, "height": 122,
          "title": {"text": "d", "dx": -3, "offset": 10},
          "resolve": {"scale": {"shape": "independent", "fill": "independent", "size": "independent", "stroke": "independent"}, "legend": {"shape": "independent", "fill": "independent", "size": "independent", "stroke": "independent"}},
          "encoding": {
            "x": {"field": "x", "type": "quantitative", "scale": {"domain": [-12, -4], "nice": false, "zero": false}, "axis": {"title": "log [PSB-16671] M", "values": [-12, -11, -10, -9, -8, -7, -6, -5, -4], "offset": 13, "labelExpr": "'' + datum.value"}},
            "y": {"field": "v", "type": "quantitative", "scale": {"domain": [-12, 150], "nice": false, "zero": false}, "axis": {"title": ["GTPγS incorporation", "(% of PSB-16671)"], "values": [0, 50, 100, 150], "offset": 14, "labelExpr": "'' + datum.value"}}
          },
          "layer": [
            {"data": {"values": [{"x": -12.6, "v": 0}, {"x": -4, "v": 0}]}, "mark": {"type": "line", "strokeDash": [3, 2], "color": "#444", "strokeWidth": 0.8}},
            {"data": {"name": "dFit"}, "mark": {"type": "line", "interpolate": "monotone", "color": "black", "strokeWidth": 1.5}, "encoding": {"detail": {"field": "s"}}},
            {"data": {"name": "dPts"}, "transform": [{"filter": "isValid(datum.e)"}], "mark": {"type": "errorbar", "color": "black", "thickness": 1.5, "ticks": {"size": 6, "thickness": 1.5}}, "encoding": {"yError": {"field": "e"}}},
            {"data": {"name": "dPts"}, "mark": {"type": "point", "filled": true, "stroke": "black", "strokeWidth": 1.2, "opacity": 1},
             "encoding": {
               "shape": {"field": "s", "type": "nominal", "scale": {"domain": ["0", "1e-7", "3e-8", "1e-8", "3e-9", "1e-9", "3e-10"], "range": ["circle", "square", "triangle-up", "triangle-down", "diamond", "circle", "square"]}, "legend": null},
               "fill": {"field": "s", "type": "nominal", "scale": {"domain": ["0", "1e-7", "3e-8", "1e-8", "3e-9", "1e-9", "3e-10"], "range": ["black", "black", "black", "black", "black", "white", "white"]}, "legend": null},
               "size": {"field": "s", "type": "ordinal", "scale": {"domain": ["0", "1e-7", "3e-8", "1e-8", "3e-9", "1e-9", "3e-10"], "range": [18, 30, 26, 26, 24, 32, 30]}, "legend": null}
             }},
            {"data": {"name": "dPts"}, "transform": [{"filter": "datum.x > 100"}], "mark": {"type": "point", "filled": false, "color": "black", "stroke": "black", "strokeWidth": 1.5, "opacity": 1},
             "encoding": {
               "shape": {"field": "s", "type": "nominal", "scale": {"domain": ["0", "1e-7", "3e-8", "1e-8", "3e-9", "1e-9", "3e-10"], "range": ["M-1,0L1,0M0.36,0A0.36,0.36,0,1,1,-0.36,0A0.36,0.36,0,1,1,0.36,0Z", "M-1,0L1,0M-0.45,-0.45L0.45,-0.45L0.45,0.45L-0.45,0.45Z", "M-1,0L1,0M0,-0.52L0.52,0.38L-0.52,0.38Z", "M-1,0L1,0M0,0.52L0.52,-0.38L-0.52,-0.38Z", "M-1,0L1,0M0,-0.52L0.42,0L0,0.52L-0.42,0Z", "M-1,0L-0.5,0M0.5,0L1,0M0.5,0A0.5,0.5,0,1,1,-0.5,0A0.5,0.5,0,1,1,0.5,0Z", "M-1,0L-0.46,0M0.46,0L1,0M-0.46,-0.46L0.46,-0.46L0.46,0.46L-0.46,0.46Z"]},
                 "legend": {"title": "2-HTP [M]", "orient": "none", "legendX": 187, "legendY": 5, "symbolSize": 169, "symbolOpacity": 1, "symbolStrokeWidth": 1.5, "symbolOffset": 3, "labelOffset": 8, "rowPadding": -1, "titlePadding": 0}},
               "fill": {"field": "s", "type": "nominal", "scale": {"domain": ["0", "1e-7", "3e-8", "1e-8", "3e-9", "1e-9", "3e-10"], "range": ["black", "black", "black", "black", "black", "white", "white"]},
                 "legend": {"title": "2-HTP [M]", "orient": "none", "legendX": 187, "legendY": 5, "symbolSize": 169, "symbolOpacity": 1, "symbolStrokeWidth": 1.5, "symbolOffset": 3, "labelOffset": 8, "rowPadding": -1, "titlePadding": 0}},
               "stroke": {"field": "s", "type": "nominal", "scale": {"domain": ["0", "1e-7", "3e-8", "1e-8", "3e-9", "1e-9", "3e-10"], "range": ["black", "black", "black", "black", "black", "black", "black"]},
                 "legend": {"title": "2-HTP [M]", "orient": "none", "legendX": 187, "legendY": 5, "symbolSize": 169, "symbolOpacity": 1, "symbolStrokeWidth": 1.5, "symbolOffset": 3, "labelOffset": 8, "rowPadding": -1, "titlePadding": 0}}
             }}
          ]
        }
      ]
    }
  ]
}
